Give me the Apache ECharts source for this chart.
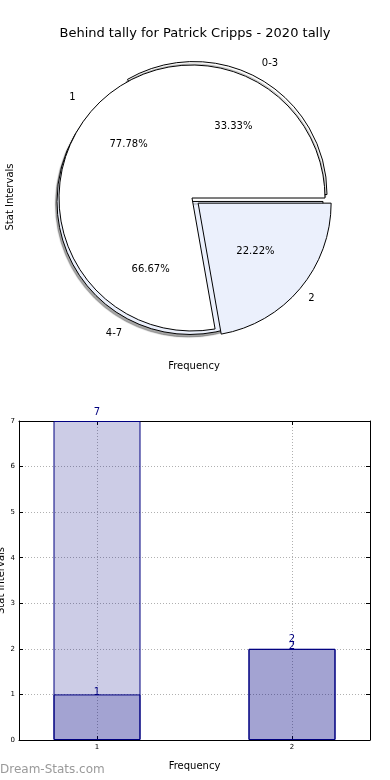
<!DOCTYPE html>
<html>
<head>
<meta charset="utf-8">
<script src="https://cdn.jsdelivr.net/npm/echarts@6.0.0/dist/echarts.min.js"></script>
<style>
html,body{margin:0;padding:0;background:#fff;}
#chart{width:390px;height:780px;}
</style>
</head>
<body>
<div id="chart"></div>
<script>
// ---- data ----
const titleText = 'Behind tally for Patrick Cripps - 2020 tally';
const pieOuterCats = ['0-3', '4-7'];
const pieOuterVals = [3, 6];
const pieInnerCats = ['2', '1'];
const pieInnerVals = [2, 7];
const barX = [1, 2];
const barTotal = [7, 2];
const barPart = [1, 2];
const yTicks = [0, 1, 2, 3, 4, 5, 6, 7];

// ---- styles ----
const FONT = 'DejaVu Sans';
const R = 133;
const CENTER = [192, 198];
const LIGHT = '#ebf0fc';
const NAVY = '#000080';
const BARFILL = 'rgba(0,0,128,0.2)';

function pieData(cats, vals, colors, selected) {
  return cats.map((c, i) => ({
    name: c, value: vals[i], selected: !!selected[i],
    itemStyle: { color: colors[i] }
  }));
}
function labelSeries(cats, vals, startAngle, r0, r1, kind) {
  const total = vals.reduce((a, b) => a + b, 0);
  return {
    type: 'pie', center: CENTER, radius: [r0, r1], startAngle: startAngle,
    clockwise: true, silent: true, z: 5,
    itemStyle: { color: 'rgba(0,0,0,0)', borderWidth: 0 },
    label: {
      show: true, position: 'inside', fontFamily: FONT, fontSize: 10, color: '#000',
      formatter: p => kind === 'pct' ? (p.value / total * 100).toFixed(2) + '%' : p.name
    },
    labelLine: { show: false },
    emphasis: { disabled: true },
    data: cats.map((c, i) => ({ name: c, value: vals[i] }))
  };
}

const shadow = { shadowColor: 'rgba(0,0,0,0.35)', shadowBlur: 1, shadowOffsetX: -1.5, shadowOffsetY: 2.5 };

const option = {
  animation: false,
  backgroundColor: '#fff',
  textStyle: { fontFamily: FONT },
  title: {
    text: titleText, left: 'center', top: 22,
    textStyle: { fontFamily: FONT, fontSize: 13, fontWeight: 'normal', color: '#000' }
  },
  graphic: [
    { type: 'text', x: 10, y: 197, rotation: Math.PI / 2,
      style: { text: 'Stat Intervals', fontFamily: FONT, fontSize: 10, fill: '#000', align: 'center', verticalAlign: 'middle' } },
    { type: 'text', x: 194, y: 366,
      style: { text: 'Frequency', fontFamily: FONT, fontSize: 10, fill: '#000', align: 'center', verticalAlign: 'middle' } },
    { type: 'text', x: 0, y: 770,
      style: { text: 'Dream-Stats.com', fontFamily: FONT, fontSize: 12, fontWeight: 'normal', fill: '#9a9a9a', align: 'left', verticalAlign: 'middle' } }
  ],
  grid: { left: 19, right: 20, top: 421, bottom: 40, containLabel: false, outerBoundsMode: 'none' },
  xAxis: [{
    type: 'value', min: 0.6, max: 2.4, position: 'bottom',
    name: 'Frequency', nameLocation: 'middle', nameGap: 21, nameMoveOverlap: false,
    nameTextStyle: { fontFamily: FONT, fontSize: 10, color: '#000' },
    axisLine: { show: true, onZero: false, lineStyle: { color: '#000', width: 1 } },
    axisTick: { show: true, inside: true, length: 4, customValues: barX, lineStyle: { color: '#000' } },
    axisLabel: { customValues: barX, fontFamily: FONT, fontSize: 7, color: '#000', margin: 4, formatter: v => String(v) },
    splitLine: { show: true, lineStyle: { color: '#b0b0b0', type: [1, 2], width: 1 } }
  }, {
    type: 'value', min: 0.6, max: 2.4, position: 'top',
    axisLine: { show: true, onZero: false, lineStyle: { color: '#000', width: 1 } },
    axisTick: { show: true, inside: true, length: 4, customValues: barX, lineStyle: { color: '#000' } },
    axisLabel: { show: false }, splitLine: { show: false }
  }],
  yAxis: [{
    type: 'value', min: 0, max: 7, interval: 1, position: 'left',
    name: 'Stat Intervals', nameLocation: 'middle', nameGap: 13, nameMoveOverlap: false,
    nameTextStyle: { fontFamily: FONT, fontSize: 10, color: '#000' },
    axisLine: { show: true, onZero: false, lineStyle: { color: '#000', width: 1 } },
    axisTick: { show: true, inside: true, length: 4, lineStyle: { color: '#000' } },
    axisLabel: { fontFamily: FONT, fontSize: 7, color: '#000', margin: 4,
      formatter: v => yTicks.includes(v) ? String(v) : '' },
    splitLine: { show: true, lineStyle: { color: '#b0b0b0', type: [1, 2], width: 1 } }
  }, {
    type: 'value', min: 0, max: 7, interval: 1, position: 'right',
    axisLine: { show: true, onZero: false, lineStyle: { color: '#000', width: 1 } },
    axisTick: { show: true, inside: true, length: 4, lineStyle: { color: '#000' } },
    axisLabel: { show: false }, splitLine: { show: false }
  }],
  series: [
    {
      type: 'pie', center: CENTER, radius: [0, R], startAngle: 120, clockwise: true,
      selectedMode: 'multiple', selectedOffset: 4, z: 2,
      itemStyle: Object.assign({ borderColor: '#000', borderWidth: 1 }, shadow),
      label: { show: false }, labelLine: { show: false }, emphasis: { disabled: true },
      data: pieData(pieOuterCats, pieOuterVals, ['#ffffff', LIGHT], [true, true])
    },
    {
      type: 'pie', center: CENTER, radius: [0, R], startAngle: 0, clockwise: true,
      selectedMode: 'multiple', selectedOffset: 8, z: 3,
      itemStyle: { borderColor: '#000', borderWidth: 1 },
      label: { show: false }, labelLine: { show: false }, emphasis: { disabled: true },
      data: pieData(pieInnerCats, pieInnerVals, [LIGHT, '#ffffff'], [true, false])
    },
    labelSeries(pieOuterCats, pieOuterVals, 120, R * 0.2, R, 'pct'),
    labelSeries(pieInnerCats, pieInnerVals, 0, R * 0.2, R, 'pct'),
    labelSeries(pieOuterCats, pieOuterVals, 120, R * 1.1, R * 1.2, 'name'),
    labelSeries(pieInnerCats, pieInnerVals, 0, R * 1.1, R * 1.2, 'name'),
    {
      type: 'bar', xAxisIndex: 0, yAxisIndex: 0, barWidth: 87, barGap: '-100%',
      itemStyle: { color: BARFILL, borderColor: NAVY, borderWidth: 1 },
      label: { show: true, position: 'top', distance: 4, fontFamily: FONT, fontSize: 10, color: NAVY },
      data: barX.map((x, i) => [x, barTotal[i]])
    },
    {
      type: 'bar', xAxisIndex: 0, yAxisIndex: 0, barWidth: 87, barGap: '-100%',
      itemStyle: { color: BARFILL, borderColor: NAVY, borderWidth: 1 },
      label: { show: true, position: 'top', distance: -3, fontFamily: FONT, fontSize: 10, color: NAVY },
      data: barX.map((x, i) => [x, barPart[i]])
    }
  ]
};

const chart = echarts.init(document.getElementById('chart'), null, { renderer: 'canvas' });
chart.setOption(option);
</script>
</body>
</html>
